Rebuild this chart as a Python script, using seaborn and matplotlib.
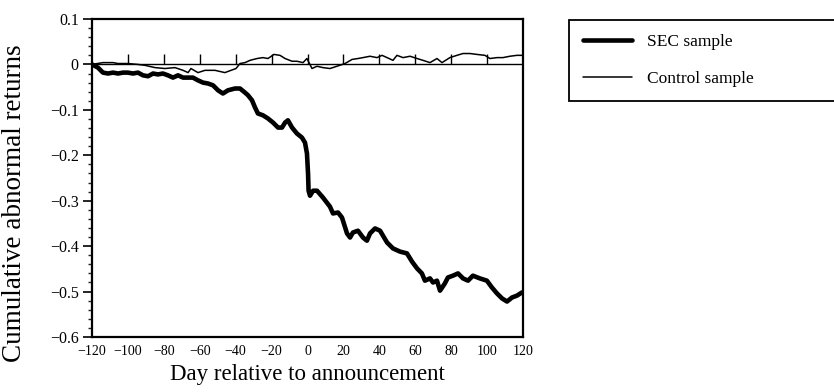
import matplotlib
matplotlib.use("Agg")
import matplotlib.pyplot as plt
from matplotlib.ticker import MultipleLocator, FixedLocator, FixedFormatter
import seaborn as sns
import pandas as pd

# ---- data ----
sec_days = [-120.0, -116.7, -113.9, -111.1, -108.3, -105.5, -102.7, -100.0, -97.2, -94.4,
            -91.6, -88.8, -86.0, -83.3, -80.5, -77.7, -74.9, -72.1, -69.3, -66.5,
            -63.8, -61.0, -58.2, -55.4, -52.6, -49.8, -47.1, -44.3, -40.4, -37.6,
            -34.8, -33.1, -30.9, -29.2, -27.6, -24.8, -22.0, -19.2, -16.4, -14.2,
            -12.5, -10.9, -8.6, -5.9, -3.1, -1.4, -0.3, 0.3, 0.6, 1.4,
            3.1, 5.3, 8.6, 12.5, 14.2, 17.0, 19.2, 22.0, 23.7, 25.3,
            28.1, 30.9, 33.1, 34.8, 37.6, 40.4, 44.3, 47.6, 51.5, 55.4,
            58.2, 61.0, 63.7, 65.4, 68.2, 69.9, 72.1, 73.8, 76.5, 78.2,
            81.0, 83.8, 86.6, 89.4, 92.1, 96.0, 99.9, 102.7, 105.5, 108.3,
            111.1, 113.9, 116.6, 119.4]
sec_car = [0.0, -0.007, -0.018, -0.020, -0.018, -0.020, -0.018, -0.018, -0.020, -0.018,
           -0.024, -0.026, -0.020, -0.022, -0.020, -0.024, -0.029, -0.024, -0.029, -0.029,
           -0.029, -0.035, -0.040, -0.042, -0.046, -0.057, -0.064, -0.057, -0.053, -0.053,
           -0.062, -0.068, -0.079, -0.095, -0.108, -0.112, -0.119, -0.128, -0.139, -0.139,
           -0.128, -0.123, -0.139, -0.152, -0.161, -0.172, -0.196, -0.240, -0.278, -0.289,
           -0.278, -0.278, -0.293, -0.313, -0.328, -0.326, -0.337, -0.372, -0.381, -0.370,
           -0.366, -0.381, -0.388, -0.372, -0.361, -0.366, -0.392, -0.405, -0.412, -0.416,
           -0.434, -0.449, -0.460, -0.476, -0.471, -0.480, -0.476, -0.498, -0.482, -0.469,
           -0.465, -0.460, -0.471, -0.476, -0.465, -0.471, -0.476, -0.491, -0.504, -0.515,
           -0.522, -0.513, -0.509, -0.502]

ctrl_days = [-120.0, -113.9, -108.3, -105.5, -100.0, -94.4, -90.5, -84.9, -79.4, -73.8,
             -69.3, -66.5, -64.9, -61.0, -57.1, -51.5, -46.0, -42.6, -39.8, -37.6,
             -34.8, -32.0, -28.1, -24.8, -22.0, -18.7, -15.3, -12.5, -8.6, -5.9,
             -2.5, -0.3, 2.5, 5.3, 8.6, 12.5, 16.4, 20.9, 24.8, 28.1,
             30.9, 34.8, 38.7, 41.5, 44.3, 47.6, 49.8, 53.2, 57.1, 61.0,
             64.3, 68.2, 72.1, 74.9, 79.3, 83.2, 86.6, 90.5, 94.4, 98.8,
             101.6, 105.5, 108.8, 112.7, 116.6, 119.4]
ctrl_car = [0.0, 0.004, 0.004, 0.002, 0.002, 0.0, -0.002, -0.007, -0.009, -0.007,
            -0.013, -0.018, -0.009, -0.018, -0.013, -0.013, -0.018, -0.013, -0.009, 0.002,
            0.004, 0.009, 0.013, 0.015, 0.013, 0.022, 0.020, 0.013, 0.007, 0.007,
            0.004, 0.013, -0.009, -0.004, -0.007, -0.009, -0.004, 0.002, 0.011, 0.013,
            0.015, 0.018, 0.015, 0.020, 0.015, 0.009, 0.020, 0.015, 0.018, 0.013,
            0.009, 0.004, 0.013, 0.004, 0.015, 0.020, 0.024, 0.024, 0.022, 0.020,
            0.013, 0.015, 0.015, 0.018, 0.020, 0.020]

series_names = ["SEC sample", "Control sample"]
x_ticks = [-120, -100, -80, -60, -40, -20, 0, 20, 40, 60, 80, 100, 120]
y_ticks = [0.1, 0.0, -0.1, -0.2, -0.3, -0.4, -0.5, -0.6]
y_tick_labels = ["0.1", "0", "\u22120.1", "\u22120.2", "\u22120.3", "\u22120.4", "\u22120.5", "\u22120.6"]

# ---- figure ----
sns.set_theme(style="white")
plt.rcParams["font.family"] = ["Liberation Serif", "DejaVu Serif"]

fig = plt.figure(figsize=(8.34, 3.92), dpi=100)
ax = fig.add_axes([92 / 834, 1 - 337 / 392, 431 / 834, 318 / 392])

sec_df = pd.DataFrame({"day": sec_days, "car": sec_car})
ctrl_df = pd.DataFrame({"day": ctrl_days, "car": ctrl_car})

sns.lineplot(data=sec_df, x="day", y="car", ax=ax, color="black", linewidth=3.3,
             sort=False, estimator=None, label=series_names[0])
sns.lineplot(data=ctrl_df, x="day", y="car", ax=ax, color="black", linewidth=1.1,
             sort=False, estimator=None, label=series_names[1])

# zero reference line with small upward ticks at each x tick
ax.axhline(0, color="black", linewidth=1.0, zorder=1)
ax.vlines(x_ticks[1:-1], 0, 0.022, color="black", linewidth=1.0, zorder=1)

ax.set_xlim(-120, 120)
ax.set_ylim(-0.6, 0.1)

ax.xaxis.set_major_locator(FixedLocator(x_ticks))
ax.set_xticklabels([str(t) if t >= 0 else "\u2212" + str(-t) for t in x_ticks])
ax.yaxis.set_major_locator(FixedLocator(y_ticks))
ax.yaxis.set_major_formatter(FixedFormatter(y_tick_labels))
ax.yaxis.set_minor_locator(MultipleLocator(0.02))

ax.tick_params(axis="x", which="both", length=0, pad=6, labelsize=10, colors="black")
ax.tick_params(axis="y", which="major", direction="out", length=6.5, width=1.2,
               pad=3, labelsize=11.5, colors="black", left=True)
ax.tick_params(axis="y", which="minor", direction="out", length=3, width=1.0, left=True)

for s in ax.spines.values():
    s.set_color("black")
    s.set_linewidth(1.6)
    s.set_visible(True)

ax.set_xlabel("Day relative to announcement", fontsize=16.5, color="black", labelpad=4)
ax.set_ylabel("")
fig.text(15 / 834, 1 - 203 / 392, "Cumulative abnormal returns", rotation=90,
         ha="center", va="center", fontsize=19.5, color="black")

leg = ax.legend(loc="upper left",
                bbox_to_anchor=(569 / 834, 1 - 108 / 392, 0.4, 88 / 392),
                bbox_transform=fig.transFigure, mode="expand",
                frameon=True, fancybox=False, shadow=False, framealpha=1,
                fontsize=12.5, handlelength=2.8, handletextpad=0.9,
                labelspacing=1.2, borderpad=0.8, borderaxespad=0)
leg.get_frame().set_edgecolor("black")
leg.get_frame().set_linewidth(1.3)
for t in leg.get_texts():
    t.set_color("black")

fig.savefig("out.png", dpi=100, facecolor="white")
